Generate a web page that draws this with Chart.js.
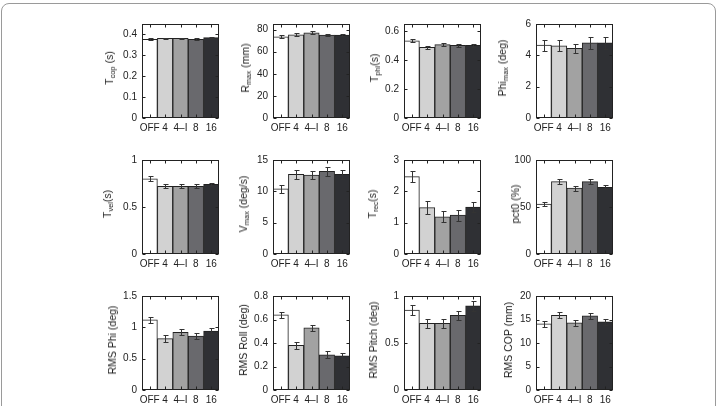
<!DOCTYPE html>
<html lang="en">
<head>
<meta charset="UTF-8" />
<title>Posture measures by condition</title>
<script src="https://cdn.jsdelivr.net/npm/chart.js"></script>
<style>
  body { margin: 0; background: #fff; width: 717px; height: 406px; overflow: hidden; position: relative;
         font-family: "Liberation Sans", Arial, sans-serif; color: #222; }
  .frame { position: absolute; left: 1px; top: 3px; width: 713px; height: 430px; border: 1px solid #9a9a9a; border-radius: 8px; }
  .cell { position: absolute; }
  .ytitle { position: absolute; white-space: nowrap; font-size: 10.5px; color: #222;
            transform: translate(-50%, -50%) rotate(-90deg); }
  .ytitle sub { font-size: 7.5px; vertical-align: -2px; }
</style>
</head>
<body>
<div class="frame"></div>

<script>
// categories (stimulation conditions)
const conditions = ['OFF', '4', '4\u2013I', '8', '16'];
const barColors = ['#ffffff', '#d2d2d2', '#a2a2a2', '#69696d', '#2f3034'];

// means and standard errors, one pair per panel
const tcop = [0.377, 0.381, 0.381, 0.377, 0.385];
const tcopErr = [0.005, 0.004, 0.004, 0.004, 0.004];
const rmax = [73.5, 75.2, 77.0, 75.0, 75.0];
const rmaxErr = [1.5, 1.4, 1.4, 1.3, 1.3];
const tphi = [0.533, 0.488, 0.507, 0.503, 0.503];
const tphiErr = [0.010, 0.010, 0.010, 0.009, 0.009];
const phimax = [4.65, 4.6, 4.45, 4.8, 4.8];
const phimaxErr = [0.35, 0.35, 0.3, 0.4, 0.4];
const tvel = [0.80, 0.72, 0.72, 0.72, 0.74];
const tvelErr = [0.025, 0.02, 0.02, 0.02, 0.02];
const vmax = [10.4, 12.7, 12.6, 13.2, 12.7];
const vmaxErr = [0.6, 0.7, 0.7, 0.7, 0.7];
const trec = [2.47, 1.48, 1.19, 1.24, 1.50];
const trecErr = [0.17, 0.2, 0.17, 0.18, 0.15];
const pct0 = [53, 77, 70, 77, 71];
const pct0Err = [2, 2.5, 2.5, 2.5, 2];
const rmsPhi = [1.12, 0.82, 0.92, 0.86, 0.94];
const rmsPhiErr = [0.05, 0.05, 0.05, 0.05, 0.05];
const rmsRoll = [0.64, 0.38, 0.53, 0.30, 0.29];
const rmsRollErr = [0.025, 0.03, 0.025, 0.03, 0.025];
const rmsPitch = [0.85, 0.71, 0.71, 0.795, 0.895];
const rmsPitchErr = [0.05, 0.05, 0.05, 0.05, 0.05];
const rmsCop = [14.1, 15.9, 14.3, 15.8, 14.5];
const rmsCopErr = [0.6, 0.6, 0.6, 0.6, 0.6];

// panel descriptions: title html, values, errors, axis max, tick step
const panels = [
  { title: 'T<sub>cop</sub> (s)', v: tcop, e: tcopErr, max: 0.45, step: 0.1, dec: 1 },
  { title: 'R<sub>max</sub> (mm)', v: rmax, e: rmaxErr, max: 85, step: 20, dec: 0 },
  { title: 'T<sub>phi</sub>(s)', v: tphi, e: tphiErr, max: 0.65, step: 0.2, dec: 1 },
  { title: 'Phi<sub>max</sub> (deg)', v: phimax, e: phimaxErr, max: 6, step: 2, dec: 0 },
  { title: 'T<sub>vel</sub>(s)', v: tvel, e: tvelErr, max: 1, step: 0.5, dec: 1 },
  { title: 'V<sub>max</sub> (deg/s)', v: vmax, e: vmaxErr, max: 15, step: 5, dec: 0 },
  { title: 'T<sub>rec</sub>(s)', v: trec, e: trecErr, max: 3, step: 1, dec: 0 },
  { title: 'pct0 (%)', v: pct0, e: pct0Err, max: 100, step: 50, dec: 0 },
  { title: 'RMS Phi (deg)', v: rmsPhi, e: rmsPhiErr, max: 1.5, step: 0.5, dec: 1 },
  { title: 'RMS Roll (deg)', v: rmsRoll, e: rmsRollErr, max: 0.8, step: 0.2, dec: 1 },
  { title: 'RMS Pitch (deg)', v: rmsPitch, e: rmsPitchErr, max: 1, step: 0.5, dec: 1 },
  { title: 'RMS COP (mm)', v: rmsCop, e: rmsCopErr, max: 20, step: 5, dec: 0 }
];

// layout of the grid
const colLeft = [142, 273, 404, 536];
const rowTop = [17, 153, 289];
const titleX = [[110, 246, 375, 503], [108, 244, 373, 515], [112, 243, 373, 508]];
const plotW = 77, plotH = 101, padL = 30, padT = 4, padR = 4, padB = 18;

const boxTicks = {
  id: 'boxTicks',
  afterDatasetsDraw(chart) {
    const ctx = chart.ctx, a = chart.chartArea, xs = chart.scales.x, ys = chart.scales.y;
    const ds = chart.data.datasets[0];
    ctx.save();
    ctx.lineWidth = 1;
    // error bars
    ctx.strokeStyle = '#333';
    chart.getDatasetMeta(0).data.forEach((bar, i) => {
      const m = ds.data[i], e = ds.errs[i];
      const cx = Math.round(bar.x) + 0.5;
      const y1 = Math.round(ys.getPixelForValue(m - e)) + 0.5;
      const y2 = Math.round(ys.getPixelForValue(m + e)) + 0.5;
      ctx.beginPath();
      ctx.moveTo(cx, y1); ctx.lineTo(cx, y2);
      ctx.moveTo(cx - 2, y1); ctx.lineTo(cx + 3, y1);
      ctx.moveTo(cx - 2, y2); ctx.lineTo(cx + 3, y2);
      ctx.stroke();
    });
    // box and inward ticks
    ctx.strokeStyle = '#222';
    const L = Math.round(a.left) + 0.5, R = Math.round(a.right) - 0.5;
    const T = Math.round(a.top) + 0.5, B = Math.round(a.bottom) - 0.5;
    ctx.strokeRect(L, T, R - L, B - T);
    ctx.beginPath();
    ys.ticks.forEach((t, i) => {
      const py = Math.round(ys.getPixelForTick(i)) + 0.5;
      ctx.moveTo(L, py); ctx.lineTo(L + 3, py);
      ctx.moveTo(R, py); ctx.lineTo(R - 3, py);
    });
    xs.ticks.forEach((t, i) => {
      const px = Math.round(xs.getPixelForTick(i)) + 0.5;
      ctx.moveTo(px, B); ctx.lineTo(px, B - 3);
      ctx.moveTo(px, T); ctx.lineTo(px, T + 3);
    });
    ctx.stroke();
    ctx.restore();
  }
};

const tickFont = { family: '"Liberation Sans", Arial, sans-serif', size: 10 };

panels.forEach((p, k) => {
  const r = Math.floor(k / 4), c = k % 4;
  const cell = document.createElement('div');
  cell.className = 'cell';
  cell.style.left = (colLeft[c] - padL) + 'px';
  cell.style.top = (rowTop[r] - padT) + 'px';
  const cv = document.createElement('canvas');
  cv.width = padL + plotW + padR;
  cv.height = padT + plotH + padB;
  cell.appendChild(cv);
  document.body.appendChild(cell);

  const t = document.createElement('div');
  t.className = 'ytitle';
  t.innerHTML = p.title;
  t.style.left = titleX[r][c] + 'px';
  t.style.top = (rowTop[r] + plotH / 2) + 'px';
  document.body.appendChild(t);

  new Chart(cv, {
    type: 'bar',
    data: {
      labels: conditions,
      datasets: [{
        data: p.v,
        errs: p.e,
        backgroundColor: barColors,
        borderColor: '#222',
        borderWidth: 1,
        borderSkipped: 'bottom',
        barPercentage: 1,
        categoryPercentage: 1
      }]
    },
    options: {
      responsive: false,
      animation: false,
      devicePixelRatio: 1,
      layout: { padding: { top: padT, right: padR, left: 0, bottom: 0 } },
      plugins: { legend: { display: false }, tooltip: { enabled: false } },
      scales: {
        x: {
          grid: { display: false, drawTicks: false },
          border: { display: false },
          ticks: { color: '#222', font: tickFont, padding: 4, maxRotation: 0, autoSkip: false },
          afterFit: s => { s.height = padB; }
        },
        y: {
          min: 0, max: p.max,
          grid: { display: false, drawTicks: false },
          border: { display: false },
          ticks: {
            color: '#222', font: tickFont, padding: 5, autoSkip: false,
            callback: v => String(+v.toFixed(p.dec))
          },
          afterBuildTicks: s => {
            const n = Math.floor(p.max / p.step + 1e-6);
            s.ticks = [];
            for (let i = 0; i <= n; i++) s.ticks.push({ value: +(i * p.step).toFixed(6) });
          },
          afterFit: s => { s.width = padL; }
        }
      }
    },
    plugins: [boxTicks]
  });
});
</script>
</body>
</html>
